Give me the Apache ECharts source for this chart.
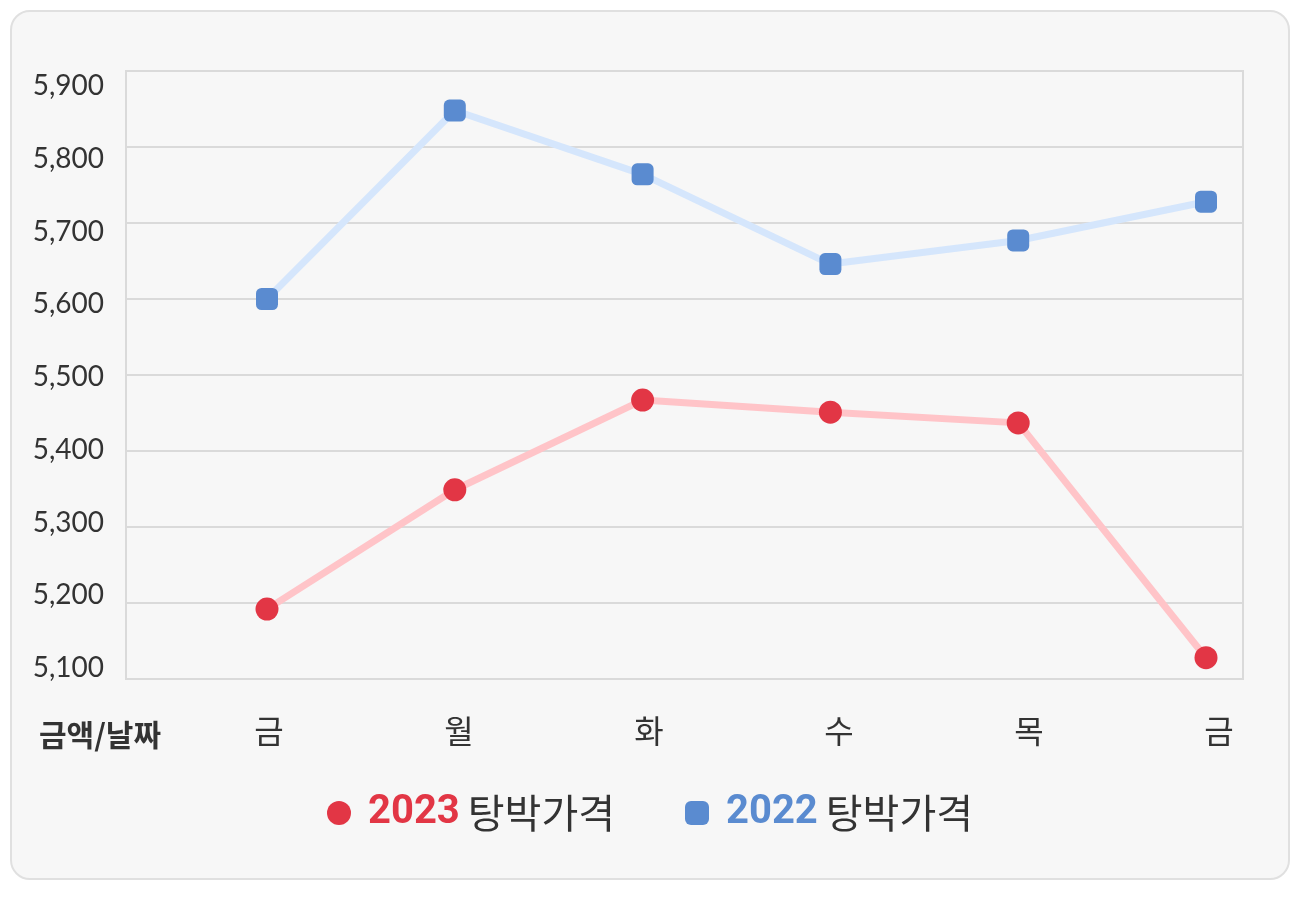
<!DOCTYPE html>
<html>
<head>
<meta charset="utf-8">
<script src="https://cdn.jsdelivr.net/npm/echarts@6/dist/echarts.min.js"></script>
<style>
html,body{margin:0;padding:0;background:#fff;}
#card{position:absolute;left:10px;top:10px;width:1276px;height:866px;border:2px solid #e0e0e0;border-radius:20px;background:#f7f7f7;}
#chart{position:absolute;left:0;top:0;width:1300px;height:899px;}
</style>
</head>
<body>
<div id="card"></div>
<div id="chart"></div>
<script>
const categories = ['금', '월', '화', '수', '목', '금'];
const series2023 = [5192, 5349, 5467, 5451, 5437, 5128];
const series2022 = [5600, 5848, 5764, 5646, 5677, 5728];
const yTicks = { min: 5100, max: 5900, interval: 100 };
const axisTitle = '금액/날짜';
const legendNames = ['2023 탕박가격', '2022 탕박가격'];

const chart = echarts.init(document.getElementById('chart'));
const korFont = '"Noto Sans CJK KR", "Noto Sans", sans-serif';

chart.setOption({
  backgroundColor: 'transparent',
  animation: false,
  title: {
    text: axisTitle,
    left: 34,
    top: 715,
    textStyle: { fontFamily: korFont, fontSize: 30, fontWeight: 'bold', color: '#333' }
  },
  grid: [
    { left: 126, right: 57, top: 71, bottom: 220, show: true, borderColor: '#dadada', borderWidth: 2, backgroundColor: 'transparent' },
    { left: 267, right: 94, top: 71, bottom: 220 },
    { left: 126, right: 57, top: 86, bottom: 231 },
    { left: 269, right: 81, top: 71, bottom: 220 }
  ],
  xAxis: [
    { type: 'value', gridIndex: 0, show: false, min: 0, max: 1 },
    { type: 'category', gridIndex: 1, data: categories, boundaryGap: false, show: false },
    { type: 'value', gridIndex: 2, show: false, min: 0, max: 1 },
    {
      type: 'category', gridIndex: 3, data: categories, boundaryGap: false,
      axisLine: { show: false }, axisTick: { show: false },
      axisLabel: { fontFamily: korFont, fontSize: 32, color: '#333', margin: 36 }
    }
  ],
  yAxis: [
    {
      type: 'value', gridIndex: 0, min: yTicks.min, max: yTicks.max, interval: yTicks.interval,
      axisLine: { show: false }, axisTick: { show: false }, axisLabel: { show: false },
      splitLine: { lineStyle: { color: '#dadada', width: 2 } }
    },
    {
      type: 'value', gridIndex: 1, min: yTicks.min, max: yTicks.max, interval: yTicks.interval,
      show: false, splitLine: { show: false }
    },
    {
      type: 'value', gridIndex: 2, min: yTicks.min, max: yTicks.max, interval: yTicks.interval,
      axisLine: { show: false }, axisTick: { show: false }, splitLine: { show: false },
      axisLabel: {
        fontFamily: 'Lato, sans-serif', fontSize: 28, color: '#333', margin: 22,
        formatter: v => v.toLocaleString('en-US')
      }
    },
    { type: 'value', gridIndex: 3, show: false, min: 0, max: 1 }
  ],
  legend: {
    top: 788,
    left: 'center',
    itemGap: 70,
    itemWidth: 24,
    itemHeight: 24,
    data: [
      { name: legendNames[0], icon: 'circle' },
      { name: legendNames[1], icon: 'roundRect' }
    ],
    formatter: function (name) {
      const parts = name.split(' ');
      const key = parts[0] === '2023' ? 'r' : 'b';
      return '{' + key + '|' + parts[0] + '}{t|' + parts.slice(1).join(' ') + '}';
    },
    textStyle: {
      rich: {
        r: { fontFamily: 'Roboto, "Noto Sans", sans-serif', fontSize: 40, fontWeight: 'bold', color: '#e23645', padding: [0, 8, 0, 12] },
        b: { fontFamily: 'Roboto, "Noto Sans", sans-serif', fontSize: 40, fontWeight: 'bold', color: '#5a8bd0', padding: [0, 8, 0, 12] },
        t: { fontFamily: korFont, fontSize: 40, color: '#333' }
      }
    }
  },
  series: [
    {
      name: legendNames[0], type: 'line', xAxisIndex: 1, yAxisIndex: 1,
      data: series2023,
      symbol: 'circle', symbolSize: 23,
      itemStyle: { color: '#e23645' },
      lineStyle: { color: '#ffc4c8', width: 7 },
      z: 3
    },
    {
      name: legendNames[1], type: 'line', xAxisIndex: 1, yAxisIndex: 1,
      data: series2022,
      symbol: 'roundRect', symbolSize: 22,
      itemStyle: { color: '#5a8bd0' },
      lineStyle: { color: '#d5e6fc', width: 7 },
      z: 3
    }
  ]
});
</script>
</body>
</html>
